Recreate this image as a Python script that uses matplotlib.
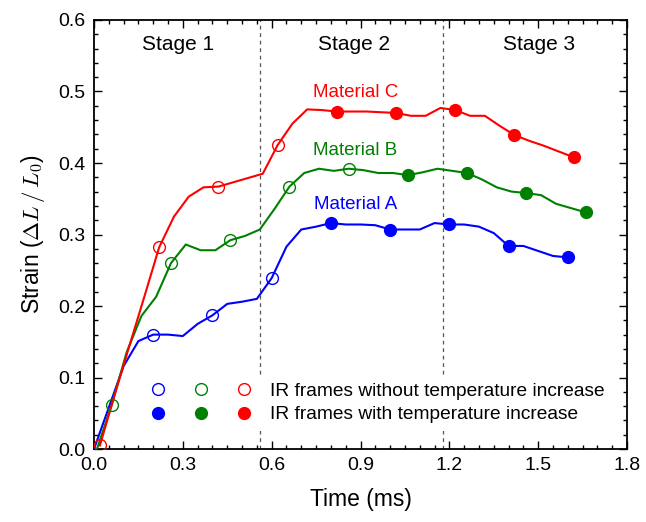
import numpy as np
import matplotlib
matplotlib.use('Agg')
import matplotlib.pyplot as plt
from matplotlib.legend_handler import HandlerTuple
from matplotlib.ticker import MultipleLocator, FormatStrFormatter

# ---------------- data ----------------
time_a = [0.00, 0.05, 0.10, 0.15, 0.20, 0.25, 0.30, 0.35, 0.40, 0.45, 0.50, 0.55,
          0.60, 0.65, 0.70, 0.75, 0.80, 0.85, 0.90, 0.95, 1.00, 1.05, 1.10, 1.15,
          1.20, 1.25, 1.30, 1.35, 1.40, 1.45, 1.50, 1.55, 1.60]
strain_a = [0.000, 0.058, 0.116, 0.151, 0.160, 0.160, 0.158, 0.175, 0.187, 0.203,
            0.206, 0.210, 0.239, 0.283, 0.307, 0.311, 0.316, 0.314, 0.314, 0.313,
            0.307, 0.307, 0.307, 0.316, 0.314, 0.314, 0.311, 0.302, 0.284, 0.284,
            0.277, 0.270, 0.268]
open_a = [0.20, 0.40, 0.60]
filled_a = [0.80, 1.00, 1.20, 1.40, 1.60]

time_b = [0.01, 0.06, 0.11, 0.16, 0.21, 0.26, 0.31, 0.36, 0.41, 0.46, 0.51, 0.56,
          0.61, 0.66, 0.71, 0.76, 0.81, 0.86, 0.91, 0.96, 1.01, 1.06, 1.11, 1.16,
          1.21, 1.26, 1.31, 1.36, 1.41, 1.46, 1.51, 1.56, 1.61, 1.66]
strain_b = [0.000, 0.062, 0.135, 0.186, 0.213, 0.260, 0.286, 0.278, 0.278, 0.292,
            0.298, 0.307, 0.336, 0.367, 0.386, 0.392, 0.389, 0.392, 0.390, 0.386,
            0.386, 0.383, 0.387, 0.392, 0.389, 0.386, 0.377, 0.366, 0.360, 0.358,
            0.355, 0.343, 0.337, 0.331]
open_b = [0.06, 0.26, 0.46, 0.66, 0.86]
filled_b = [1.06, 1.26, 1.46, 1.66]

time_c = [0.02, 0.07, 0.12, 0.17, 0.22, 0.27, 0.32, 0.37, 0.42, 0.47, 0.52, 0.57,
          0.62, 0.67, 0.72, 0.77, 0.82, 0.87, 0.92, 0.97, 1.02, 1.07, 1.12, 1.17,
          1.22, 1.27, 1.32, 1.37, 1.42, 1.47, 1.52, 1.57, 1.62]
strain_c = [0.005, 0.076, 0.145, 0.213, 0.282, 0.325, 0.353, 0.366, 0.367, 0.373,
            0.379, 0.385, 0.425, 0.455, 0.475, 0.474, 0.472, 0.472, 0.472, 0.471,
            0.470, 0.466, 0.466, 0.477, 0.474, 0.466, 0.466, 0.452, 0.439, 0.431,
            0.424, 0.416, 0.408]
open_c = [0.02, 0.22, 0.42, 0.62]
filled_c = [0.82, 1.02, 1.22, 1.42, 1.62]

materials = ["Material A", "Material B", "Material C"]
colors = ["#0000ff", "#008000", "#ff0000"]
label_pos = [(0.743, 0.342), (0.738, 0.417), (0.738, 0.498)]
stage_labels = ["Stage 1", "Stage 2", "Stage 3"]
stage_centers = [0.285, 0.877, 1.503]
stage_bounds = [0.56, 1.18]
legend_labels = ["IR frames without temperature increase",
                 "IR frames with temperature increase"]
x_ticks = [0.0, 0.3, 0.6, 0.9, 1.2, 1.5, 1.8]

# ---------------- style ----------------
plt.rcParams['font.family'] = ['Liberation Sans', 'DejaVu Sans']
plt.rcParams['mathtext.fontset'] = 'cm'

fig = plt.figure(figsize=(6.46, 5.22), dpi=100)
ax = fig.add_axes([0.1455, 0.1398, 0.8251, 0.8219])

series = [(time_a, strain_a, open_a, filled_a),
          (time_b, strain_b, open_b, filled_b),
          (time_c, strain_c, open_c, filled_c)]

open_handles, filled_handles = [], []
for (t, s, op, fi), col, name, (lx, ly) in zip(series, colors, materials, label_pos):
    t = np.asarray(t)
    s = np.asarray(s)
    ax.plot(t, s, color=col, lw=1.5, zorder=3)
    m_open = np.isin(np.round(t, 3), np.round(op, 3))
    m_fill = np.isin(np.round(t, 3), np.round(fi, 3))
    ho, = ax.plot(t[m_open], s[m_open], ls='none', marker='o', ms=8.5,
                  mfc='none', mec=col, mew=1.0, zorder=4)
    hf, = ax.plot(t[m_fill], s[m_fill], ls='none', marker='o', ms=8.5,
                  mfc=col, mec=col, mew=1.0, zorder=4)
    open_handles.append(ho)
    filled_handles.append(hf)
    ax.text(lx, ly, name, color=col, fontsize=13.5, ha='left', va='center')

for xb in stage_bounds:
    ax.axvline(xb, color='#555555', ls=(0, (3, 3)), lw=0.9, zorder=1)

for lab, xc in zip(stage_labels, stage_centers):
    ax.text(xc, 0.566, lab, fontsize=15, ha='center', va='center')

leg = ax.legend([tuple(open_handles), tuple(filled_handles)], legend_labels,
                handler_map={tuple: HandlerTuple(ndivide=None, pad=0.0)},
                handlelength=6.73, handletextpad=0.235, labelspacing=0.32,
                fontsize=13.8, frameon=True, fancybox=False, edgecolor='none',
                facecolor='white', framealpha=1.0, borderpad=0.4,
                loc='upper left', bbox_to_anchor=(0.066, 0.1735), borderaxespad=0)
leg.set_zorder(2)

ax.set_xlim(0, 1.8)
ax.set_ylim(0, 0.6)
ax.set_xticks(x_ticks)
ax.xaxis.set_minor_locator(MultipleLocator(0.05))
ax.yaxis.set_major_locator(MultipleLocator(0.1))
ax.yaxis.set_minor_locator(MultipleLocator(0.02))
ax.xaxis.set_major_formatter(FormatStrFormatter('%.1f'))
ax.yaxis.set_major_formatter(FormatStrFormatter('%.1f'))
ax.tick_params(which='both', direction='in', top=True, right=True,
               labelsize=14, width=1.0, pad=6)
ax.tick_params(which='major', length=6)
ax.tick_params(which='minor', length=3)
for sp in ax.spines.values():
    sp.set_linewidth(1.3)

ax.set_xlabel("Time (ms)", fontsize=16.5, labelpad=10)
ax.set_ylabel(r"Strain ($\Delta L\,/\,L_0$)", fontsize=16.5, labelpad=8)

fig.savefig("out.png", dpi=100)
